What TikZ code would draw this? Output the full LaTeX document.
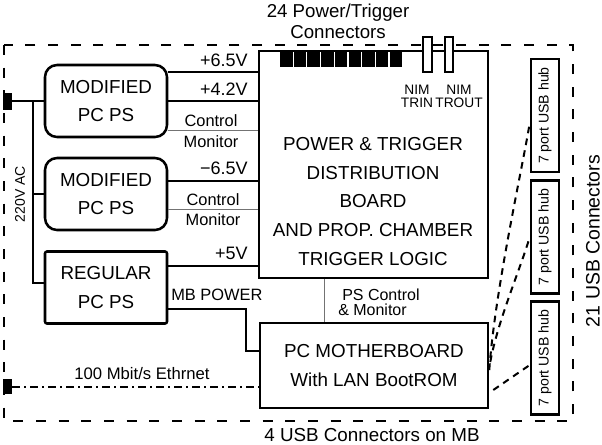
\documentclass[tikz,border=0pt]{standalone}
\usepackage{fontspec}
\setmainfont{Liberation Sans}
\usetikzlibrary{calc}
\newcommand{\bigfont}{\fontsize{14.1pt}{21.4pt}\selectfont}
\newcommand{\midfont}{\fontsize{13.5pt}{16pt}\selectfont}
\newcommand{\smallfont}{\fontsize{12.3pt}{15pt}\selectfont}

\begin{document}
\begin{tikzpicture}[x=.75pt,y=-.75pt,
        psbox/.style={draw, line width=1.9pt, rounded corners=9pt, minimum width=91.5pt, minimum height=54pt, align=center, font=\bigfont},
        regbox/.style={psbox, rounded corners=1.5pt},
        bigbox/.style={draw, line width=1.9pt, align=center, font=\bigfont},
        hubbox/.style={draw, line width=1.9pt, minimum width=21pt, minimum height=85pt},
        hubtext/.style={rotate=90, font=\fontsize{10.6pt}{12pt}\selectfont},
        power/.style={line width=2.2pt},
        ctrl/.style={line width=.6pt, color=black!55},
        casing/.style={line width=.9pt, dash pattern=on 7.5pt off 9.5pt},
        usb/.style={line width=1.5pt, dash pattern=on 5pt off 4pt},
        lan/.style={line width=1.3pt, dash pattern=on 6pt off 3pt on 1.5pt off 3pt},
        lbl/.style={font=\midfont, inner sep=0pt},
        smalltext/.style={font=\smallfont, inner sep=0pt}]

            \useasboundingbox (0,0) rectangle (602,444);

            \draw[casing] (4,45) rectangle (573,421);

            % power supplies and boards
            \node[psbox] (ps1) at (106,101) {MODIFIED\\PC PS};
            \node[psbox] (ps2) at (106,194) {MODIFIED\\PC PS};
            \node[regbox] (ps3) at (106,287.5) {REGULAR\\PC PS};
            \node[bigbox, minimum width=171.75pt, minimum height=170.25pt] (board) at (373.5,164.5) {};
            \node[font=\bigfont, align=center] (boardtxt) at (373,201.5) {POWER \& TRIGGER\\DISTRIBUTION\\BOARD\\AND PROP. CHAMBER\\TRIGGER LOGIC};
            \node[bigbox, minimum width=171pt, minimum height=63.75pt] (mb) at (374,365.5) {PC MOTHERBOARD\\With LAN BootROM};

            \foreach \n/\y in {1/115.5, 2/237, 3/358} {
                \node[hubbox] (hub\n) at (545,\y) {};
                \node[hubtext] at (hub\n) {7 port USB hub};
            }

            % connectors on the board
            \foreach \i in {0,...,8}
                \fill (280+\i*13.7,51) rectangle ++(12.5,16);
            \filldraw[fill=white, line width=1pt] (423,37) rectangle (432,72);
            \filldraw[fill=white, line width=1pt] (445,37) rectangle (453,72);
            \node[align=center, font=\fontsize{10.3pt}{9.8pt}\selectfont] (nimin) at (417,96.5) {NIM\\TRIN};
            \node[align=center, font=\fontsize{10.3pt}{9.8pt}\selectfont] (nimout) at (459,96.5) {NIM\\TROUT};

            % 220V AC
            \coordinate (acin) at (12,101);
            \coordinate (bus) at (33,101);
            \fill (3,93) rectangle (12,110);
            \draw[power] (acin) -- (ps1.west);
            \draw[power] (bus) |- ($(ps3.west)+(0,-4.5)$);
            \draw[power] (bus |- ps2.west) -- (ps2.west);
            \node[rotate=90, font=\fontsize{10.5pt}{12pt}\selectfont] at (20,194) {220V AC};

            % supply lines
            \coordinate (p65) at (0,72);
            \coordinate (c1) at (0,130);
            \coordinate (m65) at (0,181);
            \coordinate (c2) at (0,209);
            \coordinate (p5) at (0,266);
            \draw[power] (ps1.east |- p65) -- (board.west |- p65);
            \draw[power] (ps1.east) -- (board.west |- ps1.east);
            \draw[ctrl] (ps1.east |- c1) -- (board.west |- c1);
            \draw[power] (ps2.east |- m65) -- (board.west |- m65);
            \draw[ctrl] (ps2.east |- c2) -- (board.west |- c2);
            \draw[power] (ps3.east |- p5) -- (board.west |- p5);
            \node[lbl, anchor=east] at (248,60) {+6.5V};
            \node[lbl, anchor=east] at (248,89) {+4.2V};
            \node[lbl, anchor=east] at (248,168) {−6.5V};
            \node[lbl, anchor=east] at (248,253) {+5V};
            \node[smalltext] at (211,121) {Control};
            \node[smalltext] at (211,142) {Monitor};
            \node[smalltext] at (213,200) {Control};
            \node[smalltext] at (213,220) {Monitor};

            % motherboard power and control
            \coordinate (mbp) at (246,309);
            \draw[power] (ps3.east |- mbp) -- (mbp) -- (246,351) -- (mb.west |- 0,351);
            \node[smalltext, anchor=west] at (171,295) {MB POWER};
            \coordinate (psc) at (324,0);
            \draw[ctrl] (board.south -| psc) -- (mb.north -| psc);
            \node[smalltext, anchor=west, font=\fontsize{12pt}{12pt}\selectfont] at (342,295) {PS Control};
            \node[smalltext, anchor=west, font=\fontsize{12pt}{12pt}\selectfont] at (338,310) {\& Monitor};

            % ethernet
            \coordinate (lanin) at (12,387);
            \fill (3,379) rectangle (12,394);
            \draw[lan] (lanin) -- (mb.west |- lanin);
            \node[smalltext, font=\fontsize{12.5pt}{15pt}\selectfont] at (142,374) {100 Mbit/s Ethrnet};

            % usb
            \draw[usb] ($(mb.east)+(0,4.5)$) .. controls (495,290) and (522,170) .. ($(hub1.west)+(0,7.5)$);
            \draw[usb] ($(mb.east)+(1,-3.5)$) .. controls (498,320) and (520,270) .. (hub2.west);
            \draw[usb] ($(mb.east)+(4,24.5)$) -- ($(hub3.west)+(0,7)$);

            \node[align=center, font=\fontsize{14pt}{15.75pt}\selectfont] at (338,21.5) {24 Power/Trigger\\Connectors};
            \node[font=\bigfont, inner sep=1pt] at (372,435) {4 USB Connectors on MB};
            \node[rotate=90, font=\fontsize{14.6pt}{18pt}\selectfont, inner sep=1pt] at (593,241) {21 USB Connectors};
        \end{tikzpicture}
\end{document}
